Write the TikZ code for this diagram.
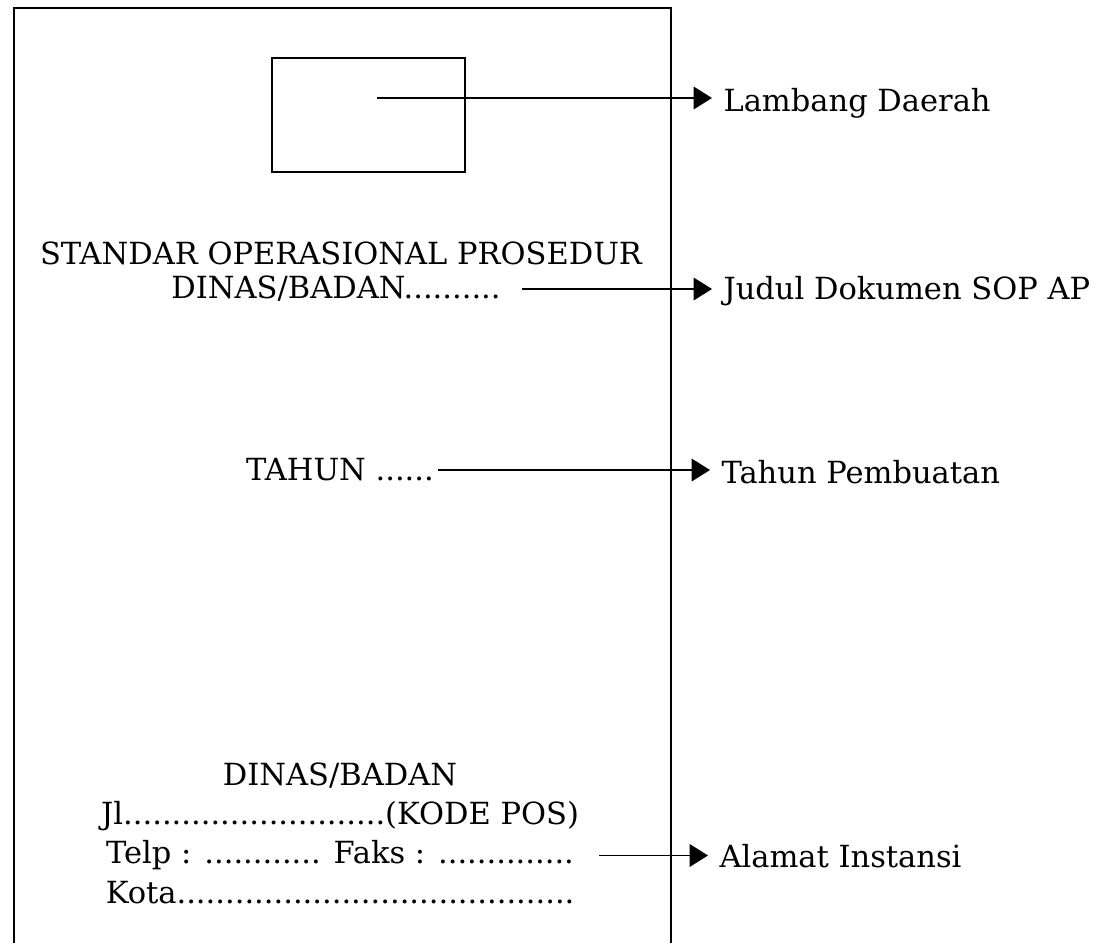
\documentclass[tikz,border=0pt]{standalone}
\usepackage{fontspec}
\setmainfont{DejaVu Serif}
\usetikzlibrary{positioning, arrows.meta}

\begin{document}
\begin{tikzpicture}[x=0.025cm, y=-0.025cm, every node/.style={font=\fontsize{21.7}{26}\selectfont, inner sep=0pt}, pointer/.style={-{Triangle[length=13pt, width=16pt]}, line width=1.2pt}, note/.style={anchor=west, inner xsep=8pt}, addr/.style={text height=17pt, text depth=5pt}]
    \useasboundingbox (0,0) rectangle (1120,943);
    % sheet, open at the bottom
    \draw[line width=1.5pt] (14,943) -- (14,8) -- (671,8) -- (671,943);

    \node[draw, line width=1.2pt, minimum width=4.825cm, minimum height=2.85cm] (logo) at (368.5,115) {};
    \coordinate (logoc) at (377,98);
    \node[note] (lambang) at (712,103) {Lambang Daerah};

    \node (title) at (341,253) {STANDAR OPERASIONAL PROSEDUR};
    \node (dinas) at (336,289) {DINAS/BADAN..........};
    \node[note] (judul) at (712,291) {Judul Dokumen SOP AP};

    \node (tahun) at (340,470) {TAHUN ......};
    \node[note] (buat) at (710,472) {Tahun Pembuatan};

    \node[addr] (instansi) at (340,777) {DINAS/BADAN};
    \node[addr, below=5.5pt of instansi] (jalan) {Jl...........................(KODE POS)};
    \node[addr, below=5.5pt of jalan] (telp) {Telp : ............ Faks : ..............};
    \node[addr, below=5.5pt of telp] (kota) {Kota.........................................};
    \node[note] (alamat) at (708,856) {Alamat Instansi};

    \draw[pointer] (logoc) -- (logoc -| lambang.west);
    \draw[pointer] ([xshift=15pt]dinas.east) -- (dinas.east -| judul.west);
    \draw[pointer] ([xshift=3pt]tahun.east) -- (tahun.east -| buat.west);
    \draw[pointer] ([xshift=18pt]telp.east) -- (telp.east -| alamat.west);
\end{tikzpicture}
\end{document}
